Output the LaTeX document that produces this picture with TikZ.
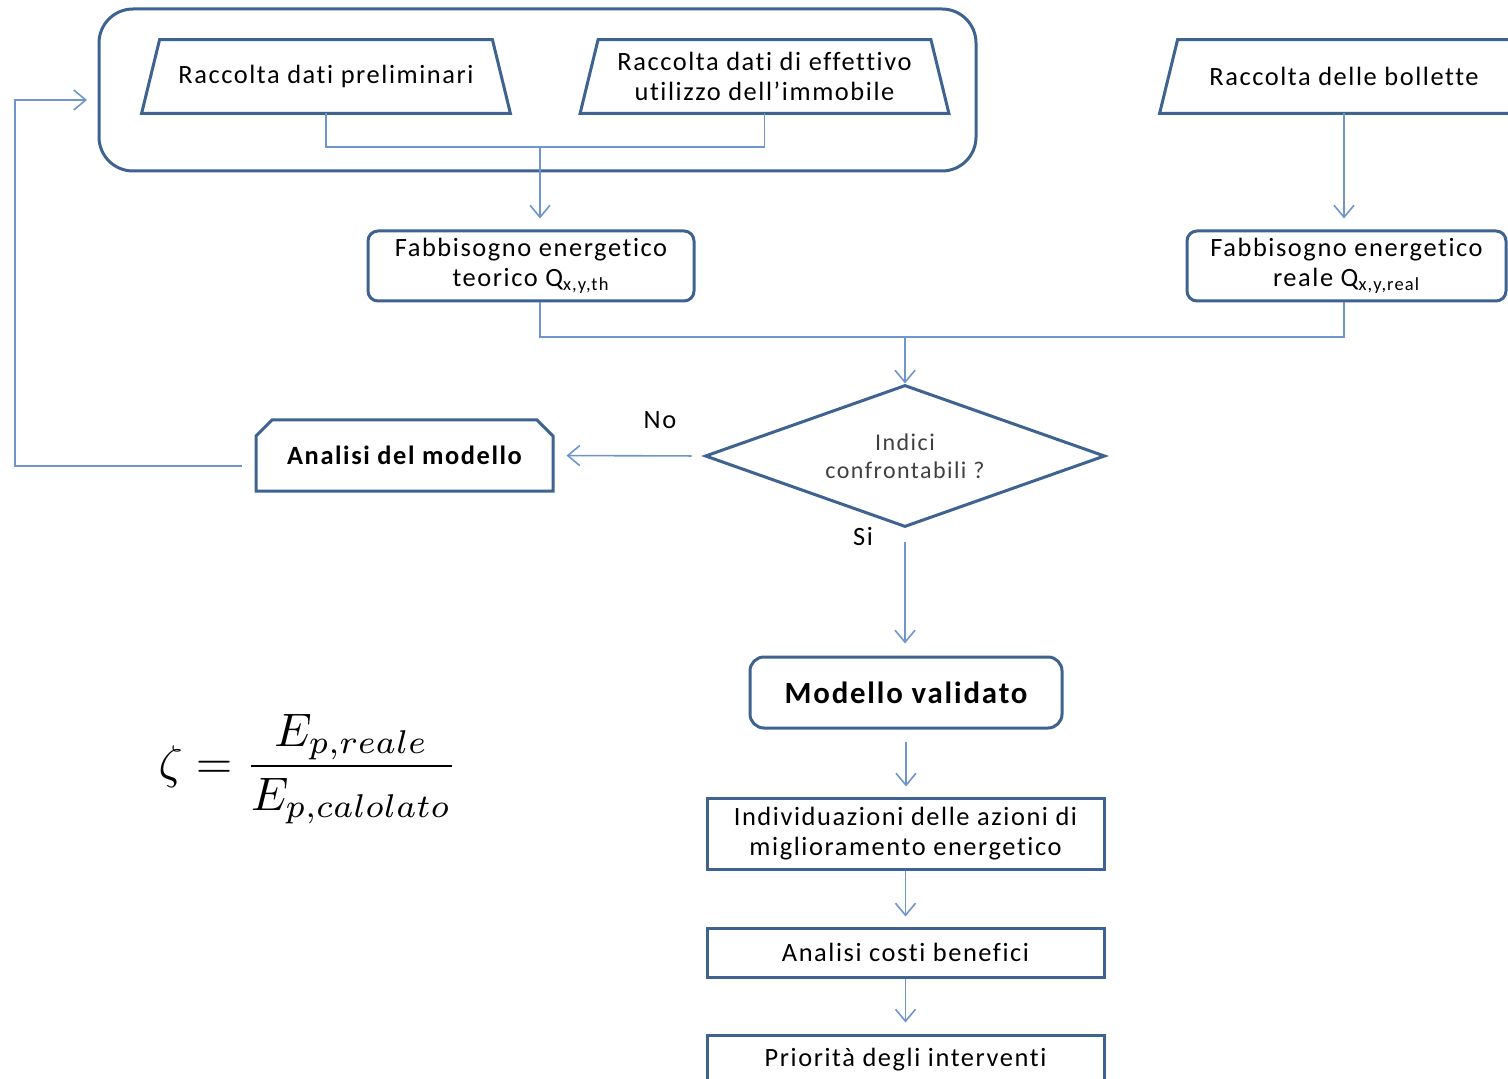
\documentclass[tikz,border=0pt]{standalone}
\usepackage{fontspec}
\setmainfont{Carlito}[LetterSpace=6, Ligatures=NoCommon]
\usepackage{amsmath}
\usetikzlibrary{positioning, calc, arrows.meta, shapes.geometric, shapes.misc}
\definecolor{bordo}{RGB}{63,99,145}
\definecolor{linea}{RGB}{110,150,205}
\tikzset{box/.style={draw=bordo, line width=1.5pt, align=center, inner sep=0pt, fill=white, font=\fontsize{13.2}{15}\selectfont}}
\tikzset{rbox/.append style={box, rounded corners=5pt}}
\tikzset{raccolta/.style={align=center, inner sep=0pt, font=\fontsize{13.2}{15}\selectfont, minimum width=184pt, minimum height=36.5pt}}
\tikzset{trap/.style={draw=bordo, line width=1.5pt, line join=miter, fill=white}}
\tikzset{conn/.style={draw=linea, line width=0.8pt}}
\tikzset{arr/.style={conn, -{Straight Barb[length=6pt, width=10pt]}}}

\begin{document}
\begin{tikzpicture}[x=0.5pt, y=-0.5pt]
  \clip (0,0) rectangle (1508,1079);
  \fill[white] (0,0) rectangle (1508,1079);

  % raccolta dati
  \node[box, rounded corners=17pt, minimum width=438.5pt, minimum height=81pt] (grp) at (537.5,90) {};
  \node[raccolta] (rdp) at (326,76.5) {};
  \node[raccolta] (rde) at (764.5,76.5) {};
  \node[raccolta] (rdb) at (1344,76.5) {};
  \foreach \n in {rdp,rde,rdb}
    \draw[trap] (\n.south west) -- ($(\n.north west)+(18,0)$) -- ($(\n.north east)+(-18,0)$)
      -- (\n.south east) -- cycle;
  \node[raccolta] (rdpT) at (rdp) {Raccolta dati preliminari};
  \node[raccolta] (rdeT) at (rde) {Raccolta dati di effettivo\\utilizzo dell'immobile};
  \node[raccolta] (rdbT) at (rdb) {Raccolta delle bollette};

  \node[rbox, minimum width=163pt, minimum height=35pt] (teo) at (531,266)
    {Fabbisogno energetico\\teorico Q\textsubscript{x,y,th}};
  \node[rbox, minimum width=159.5pt, minimum height=35pt] (rea) at (1346.5,266)
    {Fabbisogno energetico\\reale Q\textsubscript{x,y,real}};

  \node[box, diamond, aspect=2.8, minimum width=200pt, minimum height=71pt, text=black!75,
    font=\fontsize{12}{14}\selectfont] (dia) at (905,456) {Indici\\confrontabili ?};

  \node[box, chamfered rectangle, chamfered rectangle corners={north west, north east},
    chamfered rectangle xsep=4pt, chamfered rectangle ysep=4pt,
    minimum width=148.5pt, minimum height=35.5pt, font=\fontsize{13.2}{15}\selectfont\bfseries]
    (ana) at (404.5,455.5) {Analisi del modello};

  \node[rbox, rounded corners=7pt, minimum width=156pt, minimum height=35.5pt,
    font=\fontsize{15.4}{18}\selectfont\bfseries] (val) at (906,692.5) {Modello validato};
  \node[box, minimum width=198.5pt, minimum height=35.5pt] (ind) at (905.5,833.5)
    {Individuazioni delle azioni di\\miglioramento energetico};
  \node[box, minimum width=198.5pt, minimum height=24.5pt] (acb) at (905.5,952.5) {Analisi costi benefici};
  \node[box, minimum width=198.5pt, minimum height=25pt] (pri) at (905.5,1060) {Priorità degli interventi};

  \node[font=\fontsize{13.2}{15}\selectfont] (no) at (660,420) {No};
  \node[font=\fontsize{13.2}{15}\selectfont] (si) at (863,537) {Si};

  \node (zeta) at (308,769) {\scalebox{2.35}{$\displaystyle \zeta = \frac{E_{p,reale}}{E_{p,calolato}}$}};

  % connettori
  \coordinate (j1) at (540,147);
  \coordinate (j2) at (905,337);
  \coordinate (fbA) at (242,466);
  \coordinate (fbC) at (15,466);
  \coordinate (fbB) at (87,100);

  \draw[conn] (rdp.south) |- (j1) -| (rde.south);
  \draw[arr, shorten >=5.5pt] (j1) -- (j1 |- teo.north);
  \draw[arr, shorten >=5.5pt] (rdb.south) -- (rdb.south |- rea.north);
  \draw[conn] (j1 |- teo.south) |- (j2) -| (rdb.south |- rea.south);
  \draw[arr] (j2) -- (dia.north);
  \draw[arr, shorten <=6pt, shorten >=6pt] (dia.west) -- (ana.east);
  \draw[arr] (fbA) -- (fbC) |- (fbB);
  \draw[arr, shorten <=6.5pt, shorten >=6pt] (dia.south) -- (dia.south |- val.north);
  \draw[arr, shorten <=6pt, shorten >=5pt] (val.south) -- (val.south |- ind.north);
  \draw[arr, shorten >=5pt] (ind.south) -- (acb.north);
  \draw[arr, shorten >=5.5pt] (acb.south) -- (pri.north);
\end{tikzpicture}
\end{document}
